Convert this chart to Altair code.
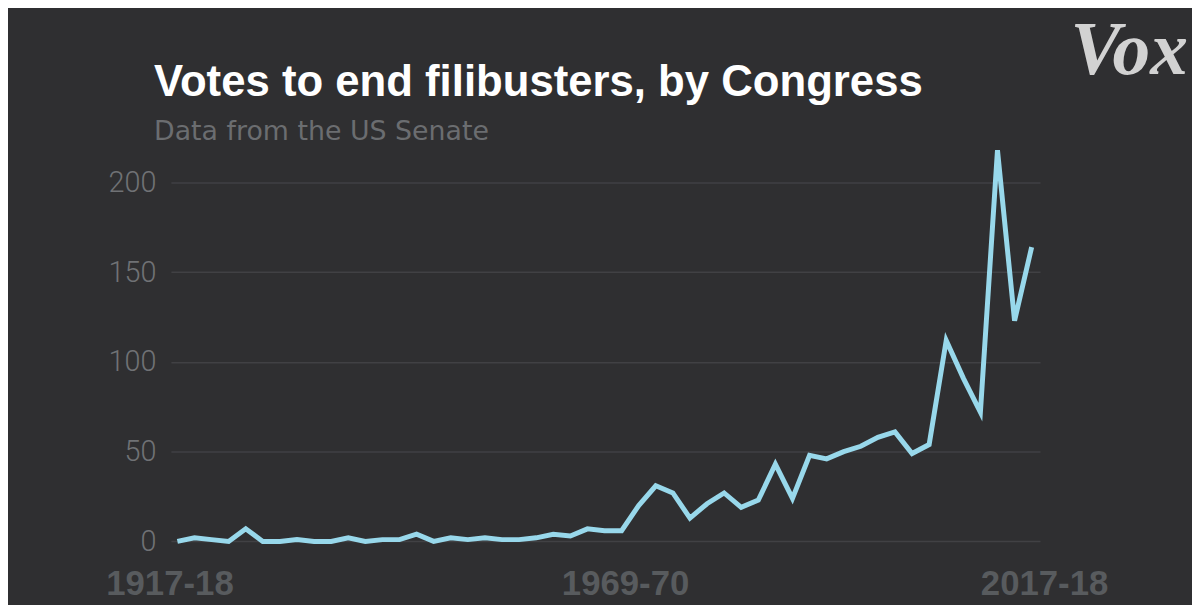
import altair as alt
import pandas as pd

# Congress start years 1917 ... 2017 (two-year Congresses)
start_years = list(range(1917, 2018, 2))
congress_labels = [f"{y}-{str(y + 1)[-2:]}" for y in start_years]

# Cloture votes (votes to end filibusters) per Congress
votes = [0, 2, 1, 0, 7, 0, 0, 1, 0, 0,
         2, 0, 1, 1, 4, 0, 2, 1, 2, 1,
         1, 2, 4, 3, 7, 6, 6, 20, 31, 27,
         13, 21, 27, 19, 23, 43, 24, 48, 46, 50,
         53, 58, 61, 49, 54, 112, 91, 72, 218, 123,
         164]

# x-axis labels shown
tick_years = [1917, 1969, 2017]
tick_labels = ["1917-18", "1969-70", "2017-18"]

y_ticks = [0, 50, 100, 150, 200]

title_text = "Votes to end filibusters, by Congress"
subtitle_text = "Data from the US Senate"
logo_text = "Vox"

df = pd.DataFrame({"year": start_years, "congress": congress_labels, "votes": votes})
lab = pd.DataFrame({"year": tick_years, "label": tick_labels})

BG = "#2f2f31"

x_scale = alt.Scale(domain=[1916.24, 2017.98], nice=False, zero=False)
y_scale = alt.Scale(domain=[0, 220], nice=False)

line = alt.Chart(df).mark_line(
    color="#98d8eb", strokeWidth=5, strokeJoin="miter"
).encode(
    x=alt.X("year:Q", scale=x_scale, axis=None),
    y=alt.Y(
        "votes:Q",
        scale=y_scale,
        axis=alt.Axis(
            values=y_ticks,
            title=None,
            domain=False,
            ticks=False,
            grid=True,
            gridColor="#414144",
            gridWidth=1.5,
            labelFont="Roboto",
            labelFontWeight=300,
            labelFontSize=29,
            labelColor="#707275",
            labelPadding=15,
        ),
    ),
    tooltip=["congress:N", "votes:Q"],
)


def xlabel(text, dx):
    return alt.Chart(lab).transform_filter(
        alt.datum.label == text
    ).mark_text(
        font="Liberation Sans",
        fontWeight="bold",
        fontSize=35,
        color="#585b5e",
        align="center",
        baseline="alphabetic",
        dx=dx,
        dy=54,
    ).encode(
        x=alt.X("year:Q", scale=x_scale),
        y=alt.YDatum(0),
        text="label:N",
    )


labels = [xlabel(tick_labels[0], -7.5), xlabel(tick_labels[1], 4), xlabel(tick_labels[2], 13)]

txt = pd.DataFrame({"title": [title_text], "subtitle": [subtitle_text], "logo": [logo_text]})

title = alt.Chart(txt).mark_text(
    font="Liberation Sans", fontWeight="bold", fontSize=44, color="#ffffff",
    align="left", baseline="alphabetic",
).encode(x=alt.value(-17), y=alt.value(-50.6), text="title:N")

subtitle = alt.Chart(txt).mark_text(
    font="DejaVu Sans", fontSize=27, color="#6b6d70",
    align="left", baseline="alphabetic",
).encode(x=alt.value(-17), y=alt.value(-6.3), text="subtitle:N")

logo = alt.Chart(txt).mark_text(
    font="Liberation Serif",
    fontWeight="bold",
    fontStyle="italic",
    fontSize=76,
    color="#d2d2d2",
    align="right",
    baseline="alphabetic",
).encode(x=alt.value(1024), y=alt.value(-73.6), text="logo:N")

chart = alt.layer(line, *labels, title, subtitle, logo).properties(
    width=875,
    height=397.4,
    autosize=alt.AutoSizeParams(type="none"),
    padding={"left": 164, "top": 137.6, "right": 153, "bottom": 62},
    background=BG,
).configure_view(stroke=None)

chart.save("out.html", embed_options={"renderer": "svg", "actions": False})
